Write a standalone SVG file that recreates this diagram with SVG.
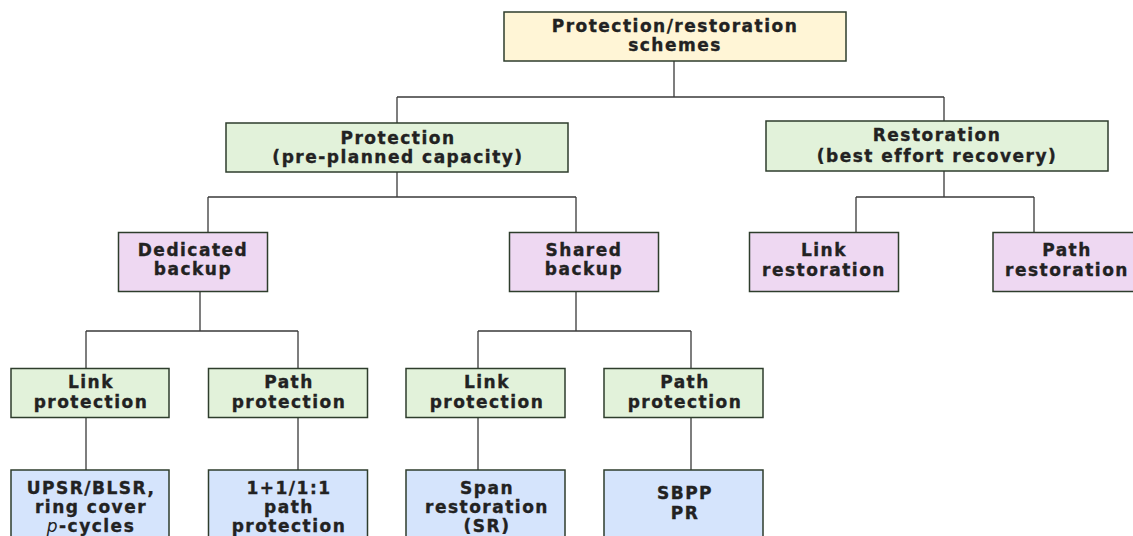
<svg xmlns="http://www.w3.org/2000/svg" width="1133" height="536" viewBox="0 0 1133 536">
<style>
.box{stroke:#2e3d2c;stroke-width:1.5}
.y{fill:#fff5d6}
.g{fill:#e2f2da}
.p{fill:#eed8f2}
.b{fill:#d5e4fc}
.t{font-family:"DejaVu Sans",sans-serif;font-weight:bold;font-size:17px;letter-spacing:1.5px;fill:#222;stroke:#222;stroke-width:0.35;text-anchor:middle}
.c{fill:none;stroke:#3a3a3a;stroke-width:1.3}
</style>
<rect width="1133" height="536" fill="#fff"/>
<g id="connectors">
<path class="c" d="M674,61V97M397,97H944M397,97V123M944,97V121"/>
<path class="c" d="M397,172V197M208,197H576M208,197V233M576,197V233"/>
<path class="c" d="M944,171V197M856,197H1034M856,197V232M1034,197V232"/>
<path class="c" d="M200,292V331M86,331H298M86,331V368M298,331V368"/>
<path class="c" d="M576,292V331M478,331H691M478,331V368M691,331V368"/>
<path class="c" d="M86,418V470M298,418V470M478,418V470M691,418V470"/>
</g>
<g id="n-root"><rect class="box y" x="504" y="12" width="342" height="49"/><text class="t" x="675" y="32">Protection/restoration</text><text class="t" x="675" y="51">schemes</text></g>
<g id="n-protection"><rect class="box g" x="226" y="123" width="342" height="49"/><text class="t" x="398" y="143.5">Protection</text><text class="t" x="398" y="163">(pre-planned capacity)</text></g>
<g id="n-restoration"><rect class="box g" x="766" y="121" width="342" height="50"/><text class="t" x="937" y="141">Restoration</text><text class="t" x="937" y="161.5">(best effort recovery)</text></g>
<g id="n-dedicated"><rect class="box p" x="118.5" y="232.5" width="149" height="59"/><text class="t" x="193" y="256">Dedicated</text><text class="t" x="193" y="275">backup</text></g>
<g id="n-shared"><rect class="box p" x="509.5" y="232.5" width="149" height="59"/><text class="t" x="584" y="256">Shared</text><text class="t" x="584" y="275">backup</text></g>
<g id="n-linkrest"><rect class="box p" x="749.5" y="232.5" width="149" height="59"/><text class="t" x="824" y="256">Link</text><text class="t" x="824" y="275.5">restoration</text></g>
<g id="n-pathrest"><rect class="box p" x="993" y="232.5" width="149" height="59"/><text class="t" x="1067" y="256">Path</text><text class="t" x="1067" y="275.5">restoration</text></g>
<g id="n-linkprot1"><rect class="box g" x="11" y="368.5" width="158" height="49"/><text class="t" x="91" y="388">Link</text><text class="t" x="91" y="407.5">protection</text></g>
<g id="n-pathprot1"><rect class="box g" x="208.5" y="368.5" width="159" height="49"/><text class="t" x="289" y="388">Path</text><text class="t" x="289" y="407.5">protection</text></g>
<g id="n-linkprot2"><rect class="box g" x="406" y="368.5" width="159" height="49"/><text class="t" x="487" y="388">Link</text><text class="t" x="487" y="407.5">protection</text></g>
<g id="n-pathprot2"><rect class="box g" x="604" y="368.5" width="159" height="49"/><text class="t" x="685" y="388">Path</text><text class="t" x="685" y="407.5">protection</text></g>
<g id="n-upsr"><rect class="box b" x="11" y="470" width="158" height="90"/><text class="t" x="91" y="494">UPSR/BLSR,</text><text class="t" x="91" y="513">ring cover</text><text class="t" x="91" y="532"><tspan font-style="italic" font-weight="normal" stroke-width="0">p</tspan>-cycles</text></g>
<g id="n-11"><rect class="box b" x="208.5" y="470" width="159" height="90"/><text class="t" x="289" y="494">1+1/1:1</text><text class="t" x="289" y="513">path</text><text class="t" x="289" y="532">protection</text></g>
<g id="n-span"><rect class="box b" x="406" y="470" width="159" height="90"/><text class="t" x="487" y="494">Span</text><text class="t" x="487" y="513">restoration</text><text class="t" x="487" y="532">(SR)</text></g>
<g id="n-sbpp"><rect class="box b" x="604" y="470" width="159" height="90"/><text class="t" x="685" y="499">SBPP</text><text class="t" x="685" y="518.5">PR</text></g>
</svg>
